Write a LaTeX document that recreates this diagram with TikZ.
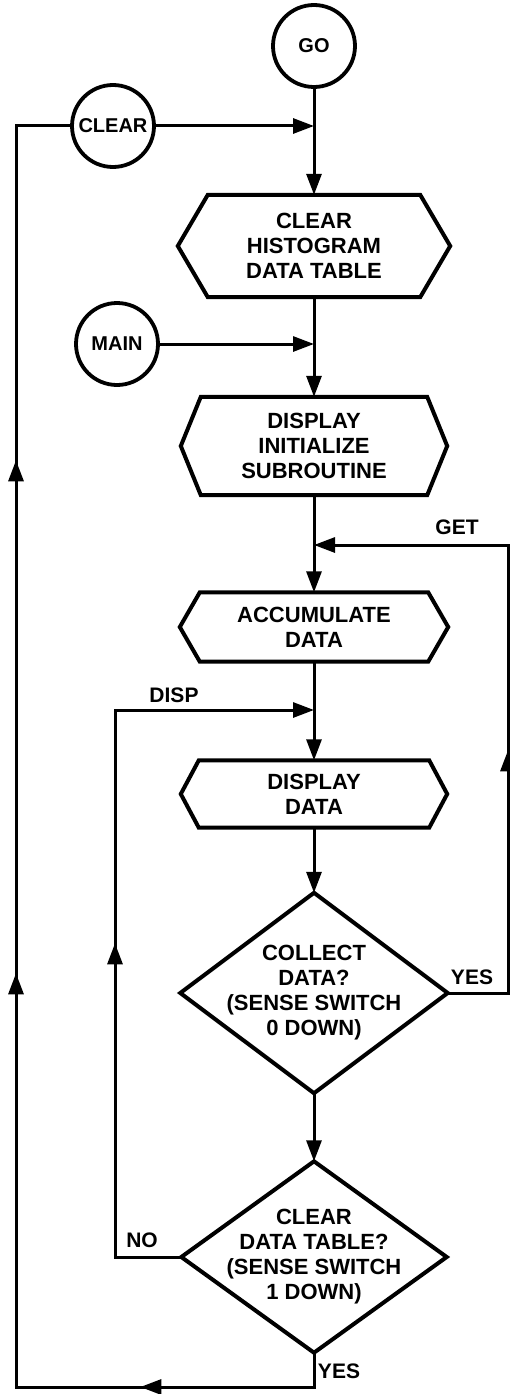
\documentclass[tikz,border=0pt]{standalone}
\usepackage{fontspec}
\setmainfont{Liberation Sans}
\usetikzlibrary{arrows.meta,decorations.markings}
\newcommand\drawhex[2]{\draw[shp] ([xshift=#2]#1.north west) -- ([xshift=-#2]#1.north east) -- (#1.east) -- ([xshift=-#2]#1.south east) -- ([xshift=#2]#1.south west) -- (#1.west) -- cycle;}
\newcommand\drawdia[1]{\draw[shp] (#1.north) -- (#1.east) -- (#1.south) -- (#1.west) -- cycle;}
\begin{document}
\begin{tikzpicture}[x=1pt,y=-1pt,
  txt/.style={font=\fontsize{22}{25}\selectfont\bfseries, align=center, inner sep=0pt},
  box/.style={txt, draw=none, rectangle},
  lbl/.style={txt, font=\fontsize{21}{25}\selectfont\bfseries},
  circ/.style={circle, draw, line width=3.8pt, minimum size=82pt, inner sep=0pt, font=\fontsize{20}{22}\selectfont\bfseries},
  shp/.style={line width=4pt, line join=miter},
  conn/.style={line width=3pt},
  tip/.tip={Triangle[length=21pt,width=15pt]},
  arr/.style={-tip},
  midarr/.style={postaction={decorate}, decoration={markings, mark=at position #1 with {\arrow{tip}}}}
]
\fill[white] (0,0) rectangle (510,1394);
\useasboundingbox (0,0) rectangle (510,1394);

% circles
\node[circ] (go) at (314,46) {GO};
\node[circ] (clear) at (113,126) {CLEAR};
\node[circ] (main) at (117,344) {MAIN};

% process boxes
\node[box, minimum width=272pt, minimum height=102pt] (h1) at (314,246) {CLEAR\\HISTOGRAM\\DATA TABLE};
\node[box, minimum width=266pt, minimum height=98pt] (h2) at (314,446) {DISPLAY\\INITIALIZE\\SUBROUTINE};
\node[box, minimum width=268pt, minimum height=69pt] (h3) at (314,627) {ACCUMULATE\\DATA};
\node[box, minimum width=266pt, minimum height=67pt] (h4) at (314,794) {DISPLAY\\DATA};
\drawhex{h1}{30pt}
\drawhex{h2}{20pt}
\drawhex{h3}{20pt}
\drawhex{h4}{18pt}

% decisions
\node[box, minimum width=267pt, minimum height=200pt] (d1) at (314,993) {COLLECT\\DATA?\\(SENSE SWITCH\\0 DOWN)};
\node[box, minimum width=265pt, minimum height=191pt] (d2) at (314,1257) {CLEAR\\DATA TABLE?\\(SENSE SWITCH\\1 DOWN)};
\drawdia{d1}
\drawdia{d2}

% labels
\node[lbl] (get) at (457,527) {GET};
\node[lbl] (disp) at (174,695) {DISP};
\node[lbl] (yes1) at (472,977) {YES};
\node[lbl] (no) at (142,1240) {NO};
\node[lbl] (yes2) at (339,1371) {YES};

% junctions
\coordinate (j1) at (314,126);
\coordinate (j2) at (314,344);
\coordinate (j3) at (314,545);
\coordinate (j4) at (314,710);
\coordinate (rt) at (508,545);
\coordinate (lt) at (115,710);
\coordinate (br) at (314,1387);
\coordinate (bl) at (16,1387);
\coordinate (tl) at (16,126);

% connectors
\draw[conn,arr] (go.south) -- (h1.north);
\draw[conn,arr] (clear.east) -- (j1);
\draw[conn,arr] (h1.south) -- (h2.north);
\draw[conn,arr] (main.east) -- (j2);
\draw[conn,arr] (h2.south) -- (h3.north);
\draw[conn,arr,midarr=303pt] (d1.east) -| (rt) -- (j3);
\draw[conn,arr] (h3.south) -- (h4.north);
\draw[conn,arr,midarr=380pt] (d2.west) -| (lt) -- (j4);
\draw[conn,arr] (h4.south) -- (d1.north);
\draw[conn,arr] (d1.south) -- (d2.north);
\draw[conn, postaction={decorate}, decoration={markings,
    mark=at position 208pt with {\arrow{tip}},
    mark=at position 746pt with {\arrow{tip}},
    mark=at position 1259pt with {\arrow{tip}}}]
  (d2.south) -- (br) -- (bl) -- (tl) -- (clear.west);
\end{tikzpicture}
\end{document}
